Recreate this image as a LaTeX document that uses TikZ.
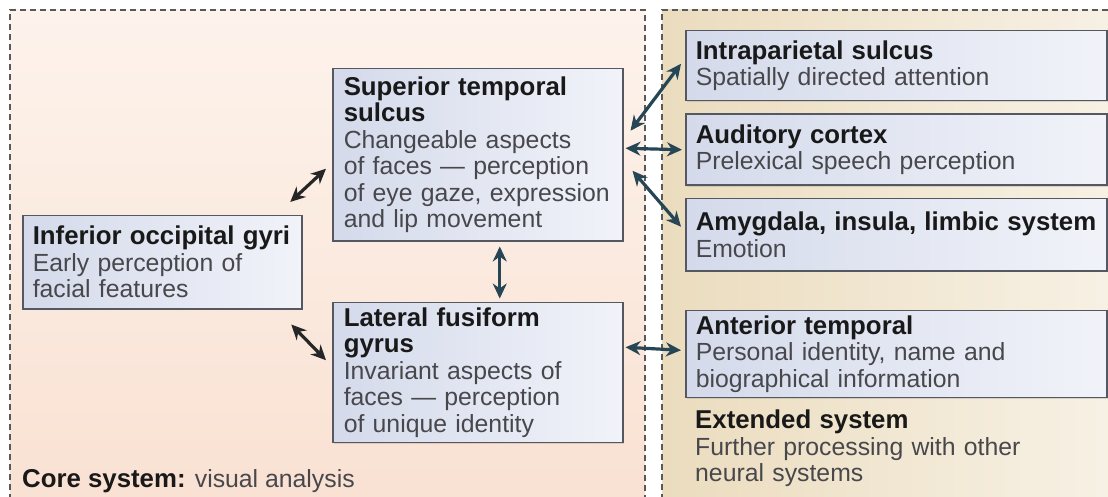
\documentclass[tikz,border=0pt]{standalone}
\usepackage{fontspec}
\setmainfont{Liberation Sans}
\definecolor{corePeach}{RGB}{249,225,210}
\definecolor{coreLight}{RGB}{253,243,236}
\definecolor{extTan}{RGB}{235,220,190}
\definecolor{extLight}{RGB}{247,241,229}
\definecolor{boxBlue}{RGB}{212,218,235}
\definecolor{boxLight}{RGB}{241,243,249}
\definecolor{edgeGrey}{RGB}{85,88,96}
\definecolor{bodyGrey}{RGB}{72,72,76}
\definecolor{linkSlate}{RGB}{38,70,86}
\newcommand{\regionhead}[1]{{\fontsize{25.8}{26.5}\selectfont\bfseries #1}}
\usetikzlibrary{arrows.meta, positioning, shadows}

\begin{document}
\begin{tikzpicture}[
      x=1pt, y=-1pt,
      every node/.style={font=\fontsize{24.8}{26.5}\selectfont, text=black!90},
      region/.style={rectangle, draw=edgeGrey, line width=1.5pt, left color=boxBlue, right color=boxLight, align=left, inner xsep=11pt, inner ysep=3pt, drop shadow={opacity=0.25, shadow xshift=1.5pt, shadow yshift=-1.5pt}},
      panel/.style={draw=black!65, line width=1.3pt, dash pattern=on 6pt off 4pt},
      link/.style={{Stealth[length=15pt,width=14pt]}-{Stealth[length=15pt,width=14pt]}, line width=3.2pt, color=linkSlate},
      blink/.style={link, color=black!85}
    ]
      \fill[white] (0,0) rectangle (1108,497);
      \useasboundingbox (0,0) rectangle (1108,497);

      % Panels: core and extended system
      \shade[top color=coreLight, bottom color=corePeach] (10,10) rectangle (645,510);
      \draw[panel] (10,510) -- (10,10) -- (645,10) -- (645,510);
      \shade[left color=extTan, right color=extLight] (662,10) rectangle (1115,510);
      \draw[panel] (662,510) -- (662,10) -- (1115,10);

      % Core system boxes
      \node[region, anchor=north west, inner xsep=10pt, text width=259pt, minimum height=93pt] (iog) at (22,215) {\regionhead{Inferior occipital gyri}\\\color{bodyGrey}Early perception of\\facial features};
      \node[region, anchor=north west, text width=268pt, minimum height=172pt] (sts) at (332,68) {\regionhead{Superior temporal}\\\regionhead{sulcus}\\\color{bodyGrey}Changeable aspects\\of faces --- perception\\of eye gaze, expression\\and lip movement};
      \node[region, below=60pt of sts, text width=268pt, minimum height=140pt] (lfg) {\regionhead{Lateral fusiform}\\\regionhead{gyrus}\\\color{bodyGrey}Invariant aspects of\\faces --- perception\\of unique identity};

      % Extended system boxes
      \node[region, anchor=north west, inner xsep=10pt, text width=401pt, minimum height=70pt] (ips) at (685,30) {\regionhead{Intraparietal sulcus}\\\color{bodyGrey}Spatially directed attention};
      \node[region, below=12pt of ips, inner xsep=10pt, text width=401pt, minimum height=71pt] (aud) {\regionhead{Auditory cortex}\\\color{bodyGrey}Prelexical speech perception};
      \node[region, below=12pt of aud, inner xsep=10pt, text width=401pt, minimum height=72pt] (amy) {\regionhead{Amygdala, insula, limbic system}\\\color{bodyGrey}Emotion};
      \node[region, below=38pt of amy, inner xsep=10pt, text width=401pt, minimum height=87pt] (ant) {\regionhead{Anterior temporal}\\\color{bodyGrey}Personal identity, name and\\biographical information};

      % Panel captions
      \node[anchor=base west, inner sep=0pt] (core) at (22,487) {\regionhead{Core system:} \color{bodyGrey}visual analysis};
      \node[anchor=north west, inner sep=0pt, text width=400pt, align=left] (ext) at (695,410) {\regionhead{Extended system}\\\color{bodyGrey}Further processing with other\\neural systems};

      % Links
      \draw[blink] ([xshift=128pt,yshift=13pt]iog.north) -- ([xshift=-6pt,yshift=-14pt]sts.west);
      \draw[blink] ([xshift=129pt,yshift=-15pt]iog.south) -- ([xshift=-6pt,yshift=12pt]lfg.west);
      \draw[link] ([xshift=22pt,yshift=-5pt]sts.south) -- ([xshift=22pt,yshift=3pt]lfg.north);
      \draw[link] ([xshift=7pt,yshift=24pt]sts.east) -- ([xshift=-4pt,yshift=2pt]ips.west);
      \draw[link] ([xshift=2pt,yshift=6.5pt]sts.east) -- ([xshift=-3pt]aud.west);
      \draw[link] ([xshift=9pt,yshift=-16pt]sts.east) -- ([xshift=-4pt,yshift=8pt]amy.west);
      \draw[link] ([xshift=2pt,yshift=25pt]lfg.east) -- ([xshift=-4pt,yshift=3.5pt]ant.west);
    \end{tikzpicture}
\end{document}
